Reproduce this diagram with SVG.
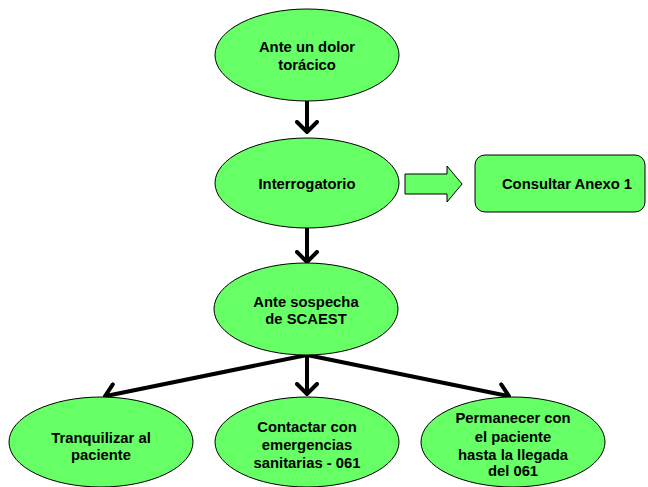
<svg xmlns="http://www.w3.org/2000/svg" width="648" height="487" viewBox="0 0 648 487">
  <style>
    .node { fill: #66FF66; stroke: #000; stroke-width: 1; }
    .label { font-family: "Liberation Sans", Arial, sans-serif; font-weight: bold; font-size: 14.8px; fill: #000; text-anchor: middle; }
    .edge { stroke: #000; stroke-width: 4; fill: none; marker-end: url(#chevron); }
  </style>
  <defs>
    <marker id="chevron" markerUnits="userSpaceOnUse" viewBox="0 0 14 24" markerWidth="14" markerHeight="24" refX="11" refY="12" orient="auto">
      <path d="M2,2 L12,12 L2,22" fill="none" stroke="#000" stroke-width="4" stroke-linecap="round" stroke-linejoin="miter"/>
    </marker>
  </defs>

  <rect width="648" height="487" fill="#fff"/>

  <g id="connectors">
    <line class="edge" x1="307" y1="100" x2="307" y2="131"/>
    <line class="edge" x1="307" y1="228" x2="307" y2="261"/>
    <line class="edge" x1="307" y1="355" x2="307" y2="393"/>
    <line class="edge" x1="307" y1="355" x2="106" y2="396"/>
    <line class="edge" x1="307" y1="355" x2="508" y2="396"/>
    <path id="block-arrow" d="M405,174 H447 V166 L462,184 L447,202 V194 H405 Z" fill="#66FF66" stroke="#000" stroke-width="1"/>
  </g>

  <g id="n-dolor">
    <ellipse class="node" cx="307" cy="55" rx="92" ry="46"/>
    <text class="label" x="307" y="52">Ante un dolor</text>
    <text class="label" x="307" y="70">torácico</text>
  </g>

  <g id="n-interrogatorio">
    <ellipse class="node" cx="307" cy="183" rx="92" ry="45"/>
    <text class="label" x="307" y="189">Interrogatorio</text>
  </g>

  <g id="n-anexo">
    <rect class="node" x="475" y="155" width="170" height="57" rx="10" ry="10"/>
    <text class="label" x="567" y="189">Consultar Anexo 1</text>
  </g>

  <g id="n-sospecha">
    <ellipse class="node" cx="306" cy="309" rx="92" ry="46"/>
    <text class="label" x="306" y="307">Ante sospecha</text>
    <text class="label" x="306" y="324">de SCAEST</text>
  </g>

  <g id="n-tranquilizar">
    <ellipse class="node" cx="101" cy="442" rx="92" ry="45"/>
    <text class="label" x="101" y="443">Tranquilizar al</text>
    <text class="label" x="101" y="460">paciente</text>
  </g>

  <g id="n-contactar">
    <ellipse class="node" cx="307" cy="442" rx="92" ry="45"/>
    <text class="label" x="307" y="432">Contactar con</text>
    <text class="label" x="307" y="450">emergencias</text>
    <text class="label" x="307" y="468">sanitarias - 061</text>
  </g>

  <g id="n-permanecer">
    <ellipse class="node" cx="513" cy="442" rx="92" ry="45"/>
    <text class="label" x="513" y="423">Permanecer con</text>
    <text class="label" x="513" y="442">el paciente</text>
    <text class="label" x="513" y="460">hasta la llegada</text>
    <text class="label" x="513" y="476">del 061</text>
  </g>
</svg>
